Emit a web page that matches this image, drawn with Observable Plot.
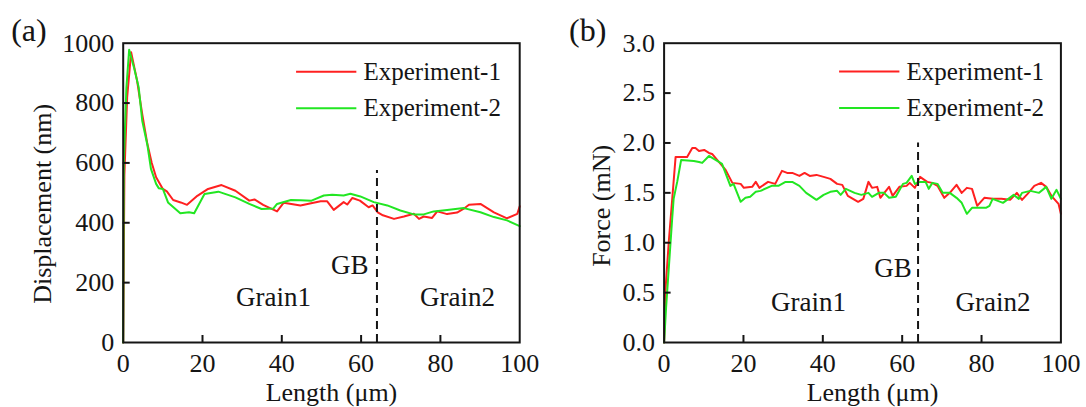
<!DOCTYPE html>
<html><head><meta charset="utf-8">
<script src="https://cdn.jsdelivr.net/npm/d3@7"></script>
<script src="https://cdn.jsdelivr.net/npm/@observablehq/plot@0.6"></script>
<style>
html,body{margin:0;padding:0;background:#fff;}
#wrap{display:flex;width:1086px;height:407px;overflow:hidden;}
</style></head><body><div id="wrap"></div>
<script>
// ---------- data ----------
const seriesNames = ["Experiment-1", "Experiment-2"];
const xTicks = [0, 20, 40, 60, 80, 100];
const xLabel = "Length (μm)";

// (a) Displacement
const dispX1 = [0, 0.3, 1.0, 2.0, 3.5, 4.8, 6.1, 7.2, 8.3, 10, 11, 12.6, 14.5, 16.1, 18.7, 21.4, 24.8, 28.3, 31.8, 33.1, 35.3, 38.8, 40.5, 44.7, 49.8, 51.4, 53.1, 55.6, 56.5, 57.8, 59.7, 61.9, 62.9, 64.2, 65.5, 68.3, 70.8, 73.3, 74.6, 75.8, 77.9, 79.2, 81.7, 84.2, 85.9, 87.2, 90.1, 93.5, 96.8, 99.4, 100];
const dispY1 = [0, 560, 820, 970, 875, 763, 663, 600, 552, 513, 505, 476, 468, 460, 490, 513, 526, 507, 474, 478, 460, 438, 467, 458, 472, 472, 443, 469, 461, 483, 474, 452, 458, 435, 425, 413, 421, 430, 413, 421, 416, 438, 429, 434, 447, 460, 463, 435, 415, 430, 455];
const dispX2 = [0, 0.15, 0.8, 1.5, 2.7, 3.9, 4.8, 6.1, 7.0, 8.3, 9.0, 10, 11.3, 14.4, 16.6, 17.9, 20.5, 24, 28.3, 31.8, 34.9, 37.9, 38.8, 42.3, 44.7, 47.5, 50.6, 52.7, 55.6, 57.3, 59.8, 63.2, 66.6, 69.9, 73.3, 75.8, 78.3, 81.7, 85.9, 90.1, 93.5, 96.8, 100];
const dispY2 = [0, 600, 850, 978, 920, 853, 741, 660, 580, 530, 515, 513, 468, 432, 435, 432, 496, 504, 485, 463, 446, 448, 463, 476, 475, 474, 491, 494, 491, 497, 488, 469, 458, 441, 428, 428, 438, 443, 449, 435, 419, 408, 389];
const dispTicks = [0, 200, 400, 600, 800, 1000];

// (b) Force
const forceX1 = [0, 0.3, 1.2, 2.9, 5.8, 7.1, 7.9, 8.8, 10.1, 11.3, 12.1, 13.8, 15.5, 17.2, 19.3, 20.1, 22.2, 23.1, 24.0, 26.2, 28, 29.7, 31, 32.3, 34.1, 35.4, 36.7, 38.4, 40.2, 41.9, 43.6, 44.9, 46.3, 48.9, 50.2, 51.5, 52.4, 53.7, 54.5, 56.7, 57.6, 59.3, 61.1, 61.9, 63.2, 64.5, 66.3, 67.6, 68.9, 70.6, 72, 73.7, 75, 76.3, 77.6, 78.9, 80.7, 82.8, 85, 87.2, 88.9, 90.2, 91.6, 93.3, 95, 96.3, 97.6, 99.4, 100];
const forceY1 = [0, 0.5, 1.02, 1.86, 1.86, 1.95, 1.95, 1.92, 1.93, 1.90, 1.89, 1.81, 1.73, 1.60, 1.59, 1.55, 1.56, 1.61, 1.55, 1.61, 1.59, 1.72, 1.70, 1.70, 1.67, 1.70, 1.67, 1.68, 1.66, 1.64, 1.59, 1.58, 1.47, 1.41, 1.44, 1.61, 1.55, 1.56, 1.45, 1.56, 1.47, 1.56, 1.57, 1.60, 1.55, 1.66, 1.61, 1.60, 1.57, 1.45, 1.50, 1.58, 1.50, 1.55, 1.54, 1.37, 1.45, 1.44, 1.44, 1.43, 1.50, 1.43, 1.49, 1.57, 1.60, 1.56, 1.47, 1.39, 1.29];
const forceX2 = [0, 0.5, 2.0, 2.4, 3.3, 4.3, 7.5, 8.8, 9.6, 11.3, 13.8, 14.6, 16.7, 17.5, 19.3, 20.5, 21.7, 23.1, 24.3, 27.1, 28.8, 30.6, 32.3, 34.1, 35.8, 38.4, 40.2, 41.9, 43.6, 44.5, 45.8, 48, 49.7, 51.5, 52.4, 54.1, 55.4, 56.7, 58.4, 60.2, 61.1, 62.4, 63.2, 64.5, 65.9, 66.7, 67.6, 68.9, 70.2, 72, 73.7, 75, 76.3, 77.6, 79.4, 81.1, 82, 82.8, 85.4, 88.1, 89.4, 90.2, 92.3, 94.5, 96.3, 97.6, 98.9, 100];
const forceY2 = [0, 0.35, 1.22, 1.44, 1.61, 1.83, 1.82, 1.81, 1.80, 1.87, 1.81, 1.79, 1.57, 1.59, 1.41, 1.45, 1.46, 1.51, 1.52, 1.57, 1.57, 1.61, 1.61, 1.57, 1.50, 1.43, 1.48, 1.51, 1.52, 1.48, 1.54, 1.50, 1.48, 1.50, 1.46, 1.50, 1.50, 1.45, 1.46, 1.59, 1.60, 1.67, 1.59, 1.61, 1.61, 1.54, 1.60, 1.59, 1.50, 1.50, 1.45, 1.40, 1.29, 1.35, 1.35, 1.35, 1.37, 1.44, 1.40, 1.48, 1.44, 1.50, 1.52, 1.50, 1.56, 1.44, 1.53, 1.44];
const forceTicks = [0, 0.5, 1.0, 1.5, 2.0, 2.5, 3.0];

const gbPosition = 64;
const gbLabel = "GB";
const grainLabels = ["Grain1", "Grain2"];

// ---------- style / layout ----------
const FONT = "'Liberation Serif', 'Times New Roman', serif";
const RED = "#ff2020", GREEN = "#22e622", INK = "#151515";

function panel(o) {
  const d1 = o.x1.map((x, i) => ({x, y: o.y1[i]}));
  const d2 = o.x2.map((x, i) => ({x, y: o.y2[i]}));
  const grains = grainLabels.map((t, i) => ({t, x: o.grainX[i], y: o.grainY}));
  const leg = seriesNames.map((s, i) => ({s, y: o.legY[i], c: i === 0 ? RED : GREEN}));
  const inner = o.yTicks.slice(1, -1);
  return Plot.plot({
    width: 543, height: 407,
    marginLeft: o.ml, marginRight: o.mr, marginTop: 42.7, marginBottom: 65,
    style: {fontFamily: FONT, fontSize: "26px", background: "#fff", color: INK, overflow: "visible"},
    x: {domain: [0, 100]},
    y: {domain: [o.yTicks[0], o.yTicks[o.yTicks.length - 1]]},
    marks: [
      Plot.line(d1, {x: "x", y: "y", stroke: RED, strokeWidth: 2}),
      Plot.line(d2, {x: "x", y: "y", stroke: GREEN, strokeWidth: 2}),
      Plot.ruleX([gbPosition], {x: d => d, y1: o.yTicks[0], y2: o.gbTop, stroke: INK, strokeWidth: 2, strokeDasharray: "8,5"}),
      Plot.frame({stroke: INK, strokeWidth: 2}),
      Plot.axisX(xTicks, {tickSize: 0, tickPadding: 11, fontSize: 26, label: null}),
      Plot.axisX(xTicks.slice(1, -1), {tickSize: 7, dy: -7, strokeWidth: 2, tickFormat: () => "", label: null}),
      Plot.axisY(o.yTicks, {tickSize: 0, tickPadding: 9, fontSize: 26, label: null, tickFormat: o.fmt}),
      Plot.axisY(inner, {tickSize: 7, dx: 7, strokeWidth: 2, tickFormat: () => "", label: null}),
      Plot.text([o.tag], {text: d => d, frameAnchor: "top-left", dx: o.tagDx, dy: -12, fontSize: 32, textAnchor: "start", lineAnchor: "middle", fill: INK}),
      Plot.text([o.yLabel], {text: d => d, frameAnchor: "left", rotate: -90, dx: o.ylDx, dy: o.ylDy, fontSize: 26, textAnchor: "middle", lineAnchor: "middle", fill: INK}),
      Plot.text([xLabel], {text: d => d, frameAnchor: "bottom", dx: 10, dy: 50, fontSize: 26, textAnchor: "middle", lineAnchor: "middle", fill: INK}),
      Plot.text([gbLabel], {text: d => d, x: o.gbTextX, y: o.gbTextY, textAnchor: "end", fontSize: 27, lineAnchor: "middle", fill: INK}),
      Plot.text(grains, {x: "x", y: "y", text: "t", textAnchor: "middle", fontSize: 27, lineAnchor: "middle", fill: INK}),
      Plot.link(leg, {x1: o.legX[0], x2: o.legX[1], y1: "y", y2: "y", stroke: "c", strokeWidth: 2}),
      Plot.text(leg, {x: o.legX[2], y: "y", text: "s", textAnchor: "start", lineAnchor: "middle", fontSize: 25, fill: INK})
    ]
  });
}

const wrap = document.getElementById("wrap");
wrap.append(panel({
  tag: "(a)", tagDx: -112, yLabel: "Displacement (nm)", ylDx: -81, ylDy: 11,
  ml: 122.7, mr: 23.8,
  x1: dispX1, y1: dispY1, x2: dispX2, y2: dispY2,
  yTicks: dispTicks, fmt: d3.format("d"), gbTop: 575,
  gbTextX: 61.9, gbTextY: 257, grainX: [37.9, 84.3], grainY: 151,
  legX: [43.6, 58.8, 60.6], legY: [905, 783]
}));
wrap.append(panel({
  tag: "(b)", tagDx: -95, yLabel: "Force (mN)", ylDx: -62, ylDy: 13,
  ml: 120.6, mr: 25.6,
  x1: forceX1, y1: forceY1, x2: forceX2, y2: forceY2,
  yTicks: forceTicks, fmt: d3.format(".1f"), gbTop: 2.0,
  gbTextX: 62.4, gbTextY: 0.74, grainX: [36.4, 82.9], grainY: 0.40,
  legX: [44.1, 59.3, 61.1], legY: [2.716, 2.35]
}));
</script></body></html>
